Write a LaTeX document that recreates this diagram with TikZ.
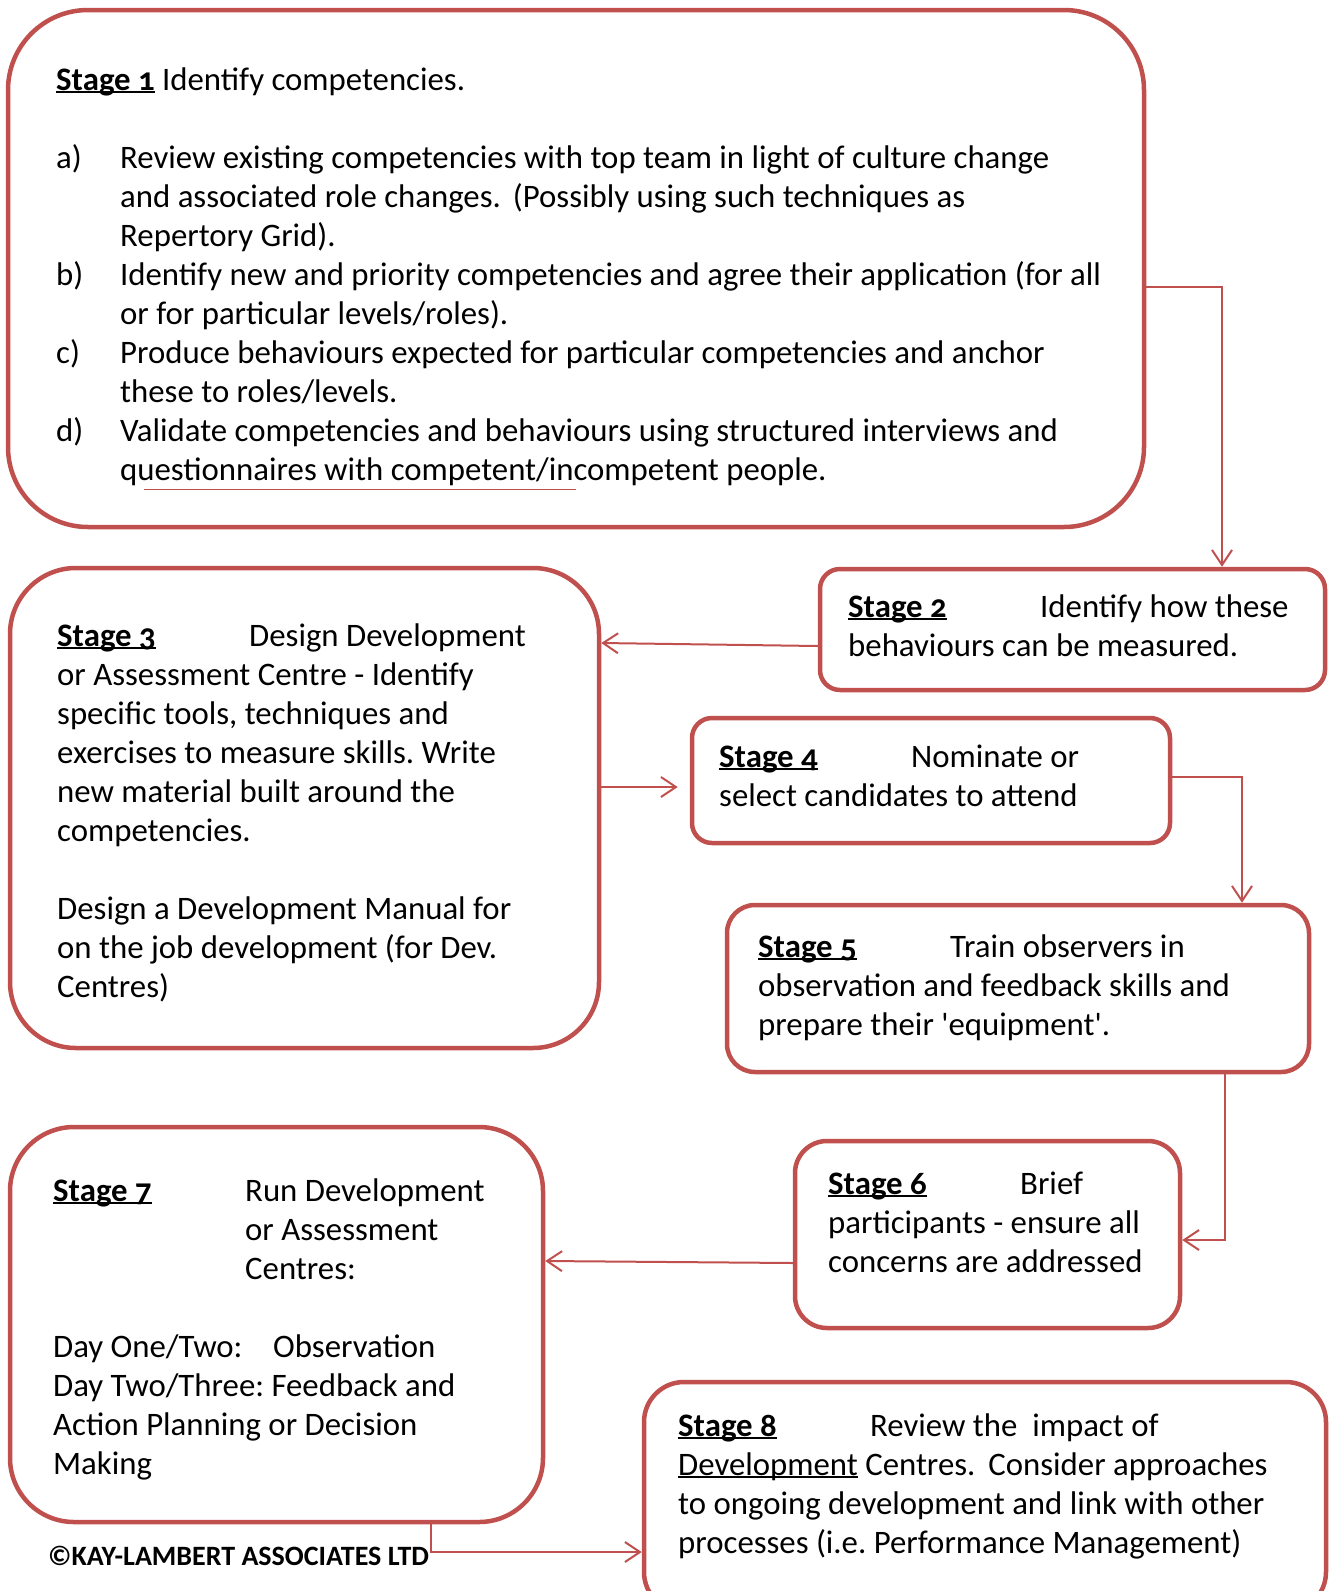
\documentclass[tikz,border=0pt]{standalone}
\usepackage{fontspec}
\setmainfont{Carlito}[Numbers=OldStyle]
\usetikzlibrary{arrows.meta,calc}

\definecolor{boxred}{HTML}{C0504D}
\frenchspacing
\newsavebox\ulbox
\newcommand\ulword[1]{\sbox\ulbox{#1}\rlap{\rule[-2.5pt]{\wd\ulbox}{1.4pt}}\usebox\ulbox}
\newcommand\stagetag[1]{\makebox[192pt][l]{\ulword{\textbf{#1}}}}
\newcommand\firstline{\rule{0pt}{30pt}}
\newcommand\itemtag[1]{\makebox[64pt][l]{#1}}
\newcommand\itemgap{\hspace*{64pt}}

\begin{document}
\begin{tikzpicture}[
    x=1pt, y=-1pt,
    stagebox/.style={draw=boxred, line width=4.5pt, rounded corners=#1, inner sep=0pt},
    stagetext/.style={anchor=north west, inner sep=0pt, align=left, font=\fontsize{32.8}{39}\selectfont},
    conn/.style={draw=boxred, line width=2pt, -{Straight Barb[length=15pt,width=20pt]}}
]
\useasboundingbox (0,0) rectangle (1331,1591);

% boxes
\node[stagebox=80pt, minimum width=1136pt, minimum height=517pt] (s1) at (576,268.5) {};
\node[stagebox=20pt, minimum width=505pt, minimum height=121pt] (s2) at (1072.5,629.5) {};
\node[stagebox=66pt, minimum width=589pt, minimum height=480pt] (s3) at (304.5,808) {};
\node[stagebox=20pt, minimum width=478pt, minimum height=125pt] (s4) at (931,780.5) {};
\node[stagebox=28pt, minimum width=582pt, minimum height=167pt] (s5) at (1018,988.5) {};
\node[stagebox=32pt, minimum width=385pt, minimum height=187pt] (s6) at (987.5,1234.5) {};
\node[stagebox=64pt, minimum width=533pt, minimum height=395pt] (s7) at (276.5,1324.5) {};
\node[stagebox=40pt, minimum width=682pt, minimum height=230pt] (s8) at (985,1497) {};

% texts
\node[stagetext] (t1) at (56,60) {\firstline\ulword{\textbf{Stage 1}} Identify competencies.\\[39pt]
\itemtag{a)}Review existing competencies with top team in light of culture change\\
\itemgap and associated role changes.\hspace{12pt}(Possibly using such techniques as\\
\itemgap Repertory Grid).\\
\itemtag{b)}Identify new and priority competencies and agree their application (for all\\
\itemgap or for particular levels/roles).\\
\itemtag{c)}Produce behaviours expected for particular competencies and anchor\\
\itemgap these to roles/levels.\\
\itemtag{d)}Validate competencies and behaviours using structured interviews and\\
\itemgap questionnaires with competent/incompetent people.};
\draw[boxred, line width=1pt] (144,489) -- (576,489);

\node[stagetext] (t2) at (848,587) {\firstline\stagetag{Stage 2}Identify how these\\
behaviours can be measured.};

\node[stagetext] (t3) at (57,616) {\firstline\stagetag{Stage 3}Design Development\\
or Assessment Centre - Identify\\
specific tools, techniques and\\
exercises to measure skills. Write\\
new material built around the\\
competencies.\\[39pt]
Design a Development Manual for\\
on the job development (for Dev.\\
Centres)};

\node[stagetext] (t4) at (719,737) {\firstline\stagetag{Stage 4}Nominate or\\
select candidates to attend};

\node[stagetext] (t5) at (758,927) {\firstline\stagetag{Stage 5}Train observers in\\
observation and feedback skills and\\
prepare their \textquotesingle equipment\textquotesingle.};

\node[stagetext] (t6) at (828,1164) {\firstline\stagetag{Stage 6}Brief\\
participants - ensure all\\
concerns are addressed};

\node[stagetext] (t7) at (53,1171) {\firstline\stagetag{Stage 7}Run Development\\
\hspace*{192pt}or Assessment\\
\hspace*{192pt}Centres:\\[39pt]
\makebox[220pt][l]{Day One/Two:}Observation\\
Day Two/Three: Feedback and\\
Action Planning or Decision\\
Making};

\node[stagetext] (t8) at (678,1406) {\firstline\stagetag{Stage 8}Review the\ \ impact of\\
\ulword{Development} Centres.\hspace{13pt}Consider approaches\\
to ongoing development and link with other\\
processes (i.e. Performance Management)};

\node[anchor=base west, inner sep=0pt, font=\fontsize{28}{30}\selectfont\bfseries] (copy) at (48,1565) {\textcopyright KAY-LAMBERT ASSOCIATES LTD};

% connectors
\draw[conn] ([yshift=-18.5pt]s1.east) -| ([xshift=149.5pt]s2.north);
\draw[conn] ([yshift=-16.5pt]s2.west) -- ([yshift=165pt]s3.east);
\coordinate (s4in) at ([xshift=-12pt,yshift=-6.5pt]s4.west);
\draw[conn] (s3.east |- s4in) -- (s4in);
\draw[conn] ([yshift=3.5pt]s4.east) -| ([xshift=224pt]s5.north);
\draw[conn] ([xshift=207pt]s5.south) |- ([yshift=-5.5pt]s6.east);
\draw[conn] ([yshift=-28.5pt]s6.west) -- ([yshift=63.5pt]s7.east);
\draw[conn] ([xshift=154.5pt]s7.south) |- ([yshift=-55pt]s8.west);
\end{tikzpicture}
\end{document}
